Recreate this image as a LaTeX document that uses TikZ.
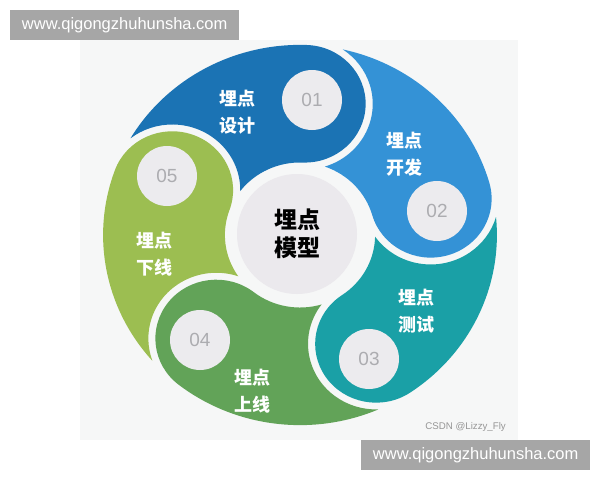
\documentclass[tikz,border=0pt]{standalone}
\usepackage{fontspec}
\setmainfont{Liberation Sans}
\newfontfamily\cjk{Noto Sans CJK SC}
\definecolor{panel}{RGB}{246,247,247}
\definecolor{cA}{RGB}{27,115,180}
\definecolor{cB}{RGB}{52,146,214}
\definecolor{cC}{RGB}{26,160,166}
\definecolor{cD}{RGB}{98,163,88}
\definecolor{cE}{RGB}{156,190,81}
\definecolor{hub}{RGB}{235,233,237}
\definecolor{numbg}{RGB}{236,235,238}
\definecolor{numtxt}{RGB}{172,172,176}
\definecolor{wmbox}{RGB}{166,166,166}
\definecolor{credit}{RGB}{150,150,150}
\begin{document}
\begin{tikzpicture}[x=1pt,y=1pt,
  lbl/.style={text=white,align=center,inner sep=0pt,font=\cjk\bfseries\fontsize{18}{27}\selectfont},
  numc/.style={circle,fill=numbg,minimum size=60pt,inner sep=0pt,text=numtxt,font=\fontsize{19}{22}\selectfont},
  wm/.style={fill=wmbox,text=white,minimum width=229pt,minimum height=30pt,inner sep=0pt,font=\fontsize{16.5}{18}\selectfont}]
\useasboundingbox (0,0) rectangle (600,-480);
\fill[white] (0,0) rectangle (600,-480);
\fill[panel] (80,-40) rectangle (518,-440);
% swirl segments
\begin{scope}[shift={(300,-235)},xscale=1.015,yscale=0.98]
\foreach \k/\c in {0/cA,1/cB,2/cC,3/cD,4/cE}{
  \fill[\c,rotate=-72*\k] (149.4:194)
     arc[start angle=149.4,end angle=88,radius=194]
     arc[start angle=88,end angle=-92,radius=60]
     arc[start angle=88,end angle=142.7,radius=74]
     arc[start angle=-0.8,end angle=127.8,radius=67] -- cycle;
}
\end{scope}
% hub
\fill[hub] (297,-234) circle (60);
\node[inner sep=0pt,align=center,font=\cjk\bfseries\fontsize{23}{28}\selectfont] (hubtxt) at (297,-234) {埋点\\模型};
% number circles
\node[numc] (n1) at (312,-100) {01};
\node[numc] (n2) at (437,-211) {02};
\node[numc] (n3) at (369,-359) {03};
\node[numc] (n4) at (200,-340) {04};
\node[numc] (n5) at (167,-176) {05};
% labels
\node[lbl] (t1) at (237,-112.5) {埋点\\设计};
\node[lbl] (t2) at (404,-154) {埋点\\开发};
\node[lbl] (t3) at (416,-311) {埋点\\测试};
\node[lbl] (t4) at (252,-391) {埋点\\上线};
\node[lbl] (t5) at (154,-254.5) {埋点\\下线};
% credit
\node[text=credit,inner sep=0pt,anchor=east,font=\fontsize{9.7}{11}\selectfont] (cr) at (506,-427) {CSDN @Lizzy\_Fly};
% watermarks
\node[wm,anchor=north west] (wm1) at (10,-10) {www.qigongzhuhunsha.com};
\node[wm,anchor=north west] (wm2) at (361,-440) {www.qigongzhuhunsha.com};
\end{tikzpicture}
\end{document}
